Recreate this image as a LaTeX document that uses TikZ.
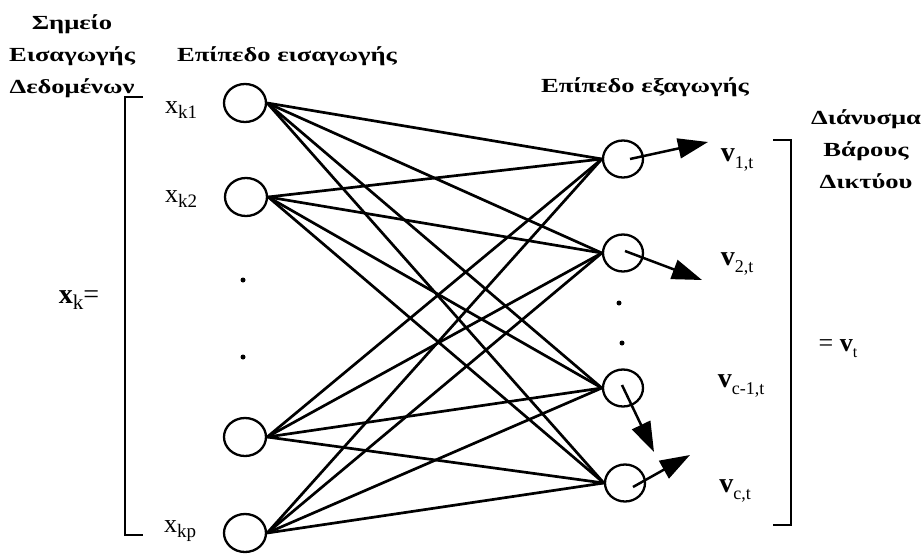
\documentclass[tikz,border=0pt]{standalone}
\usepackage{fontspec}
\setmainfont{Liberation Serif}
\newfontfamily\titlefont[FakeStretch=1.33]{Liberation Serif}
\usetikzlibrary{arrows.meta,shapes.geometric,calc}
% lowered subscript: size, drop, text
\newcommand\lowsub[3]{\raisebox{-#2}{\fontsize{#1}{#1}\selectfont #3}}
\begin{document}
\begin{tikzpicture}[x=1pt,y=-1pt,
  neuron/.style={draw, ellipse, line width=2.3pt, minimum width=42pt, minimum height=38pt, inner sep=0pt},
  outn/.style={neuron, minimum width=40pt, minimum height=37pt},
  link/.style={line width=2.7pt},
  outarrow/.style={line width=2.5pt, -{Triangle[length=30pt,width=20pt]}},
  bracket/.style={line width=2.5pt},
  title/.style={font=\titlefont\bfseries\fontsize{20}{32}\selectfont, align=center},
  lbl/.style={inner sep=0pt},
  vdot/.style={fill, circle, inner sep=0pt, minimum size=5pt}
]
\useasboundingbox (0,0) rectangle (924,554);

% titles
\node[title] (tpoint) at (72,56) {Σημείο\\Εισαγωγής\\Δεδομένων};
\node[title] (tinlayer) at (287,56) {Επίπεδο εισαγωγής};
\node[title] (toutlayer) at (645,87) {Επίπεδο εξαγωγής};
\node[title] (tvector) at (866,149) {Διάνυσμα\\Βάρους\\Δικτύου};

% input layer
\node[neuron] (i1) at (245,103) {};
\node[neuron] (i2) at (246,197) {};
\node[neuron] (i3) at (245,437) {};
\node[neuron] (ip) at (245,533) {};
\node[vdot] (id1) at (243,280) {};
\node[vdot] (id2) at (243,357) {};

% output layer
\node[outn] (o1) at (623,159) {};
\node[outn] (o2) at (623,253) {};
\node[outn] (o3) at (623,388) {};
\node[outn] (oc) at (625,483) {};
\node[vdot] (od1) at (619,303) {};
\node[vdot] (od2) at (622,343) {};

% full connections between the layers
\foreach \a in {i1,i2,i3,ip}
  \foreach \b in {o1,o2,o3,oc}
    \draw[link] (\a.east) -- (\b.west);

% output arrows
\coordinate (t1) at (708,142);
\coordinate (t2) at (702,280);
\coordinate (t3) at (654,452);
\coordinate (tc) at (690,455);
\draw[outarrow] ($(o1.center)+(7,0)$) -- (t1);
\draw[outarrow] ($(o2.center)+(2,-2)$) -- (t2);
\draw[outarrow] ($(o3.center)+(-1,-3)$) -- (t3);
\draw[outarrow] ($(oc.center)+(8,4)$) -- (tc);

% input labels
\node[lbl, font=\fontsize{26}{26}\selectfont] (lx1) at (181,110) {x\lowsub{19}{5pt}{k1}};
\node[lbl, font=\fontsize{26}{26}\selectfont] (lx2) at (181,199) {x\lowsub{19}{5pt}{k2}};
\node[lbl, font=\fontsize{26}{26}\selectfont] (lxp) at (180,531) {x\lowsub{19}{5pt}{kp}};
\node[lbl, font=\fontsize{28}{28}\selectfont] (lxk) at (79,300) {\textbf{x}\lowsub{21}{6pt}{k}=};

% output labels
\node[lbl, font=\fontsize{28}{28}\selectfont] (lv1) at (737,160) {\textbf{v}\lowsub{18}{7pt}{1,t}};
\node[lbl, font=\fontsize{28}{28}\selectfont] (lv2) at (737,264) {\textbf{v}\lowsub{18}{7pt}{2,t}};
\node[lbl, font=\fontsize{28}{28}\selectfont] (lv3) at (741,386) {\textbf{v}\lowsub{18}{7pt}{c-1,t}};
\node[lbl, font=\fontsize{28}{28}\selectfont] (lvc) at (735,491) {\textbf{v}\lowsub{18}{7pt}{c,t}};
\node[lbl, font=\fontsize{26}{26}\selectfont] (lvt) at (838,349) {=\ \textbf{v}\lowsub{16}{6pt}{t}};

% brackets
\draw[bracket] (143,97) -- (125,97) -- (125,535) -- (143,535);
\draw[bracket] (773,140) -- (791,140) -- (791,525) -- (773,525);
\end{tikzpicture}
\end{document}
